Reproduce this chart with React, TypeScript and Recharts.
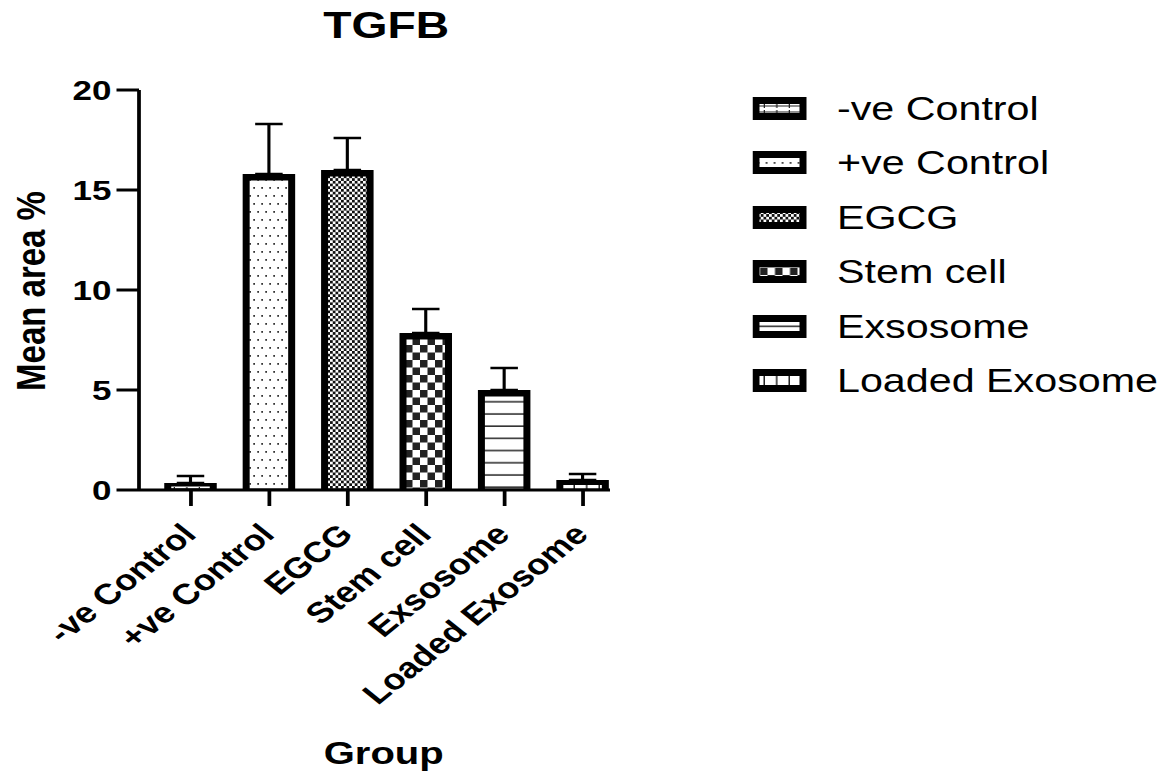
import React from 'react';
import { BarChart, Bar, XAxis, YAxis, ErrorBar, Cell, Legend, Label } from 'recharts';

const groups = ['-ve Control', '+ve Control', 'EGCG', 'Stem cell', 'Exsosome', 'Loaded Exosome'];
const means = [0.35, 15.8, 16.0, 7.85, 5.0, 0.5];
const errors = [0.35, 2.5, 1.6, 1.2, 1.1, 0.3];
const yTicks = [0, 5, 10, 15, 20];
const patternIds = ['pNeg', 'pPos', 'pEgcg', 'pStem', 'pExo', 'pLoaded'];

const FONT = '"Liberation Sans", Arial, Helvetica, sans-serif';
// the source image is stretched sideways, so draw narrow and scale in x
const SX = 1.25;
const W = 1168 / SX;
const H = 773;

const data = groups.map((name, i) => ({ name, mean: means[i], err: [0, errors[i]] }));

const Patterns = () => (
  <svg width={0} height={0} style={{ position: 'absolute' }}>
    <defs>
      <pattern id="pNeg" patternUnits="userSpaceOnUse" width={10} height={6}>
        <rect width={10} height={6} fill="#fff" />
        <rect x={0} y={2.5} width={10} height={1} fill="#222" />
        <rect x={9} y={1} width={1} height={4} fill="#222" />
      </pattern>
      <pattern id="pPos" patternUnits="userSpaceOnUse" width={6.4} height={16}>
        <rect width={6.4} height={16} fill="#fff" />
        <rect x={1} y={3} width={1.4} height={1.8} fill="#333" />
        <rect x={4.2} y={11} width={1.4} height={1.8} fill="#333" />
      </pattern>
      <pattern id="pEgcg" patternUnits="userSpaceOnUse" width={4.4} height={5.4}>
        <rect width={4.4} height={5.4} fill="#fff" />
        <rect x={0} y={0} width={2.2} height={2.7} fill="#111" />
        <rect x={2.2} y={2.7} width={2.2} height={2.7} fill="#111" />
      </pattern>
      <pattern id="pStem" patternUnits="userSpaceOnUse" width={12} height={15}>
        <rect width={12} height={15} fill="#fff" />
        <rect x={0} y={0} width={6} height={7.5} fill="#222" />
        <rect x={6} y={7.5} width={6} height={7.5} fill="#222" />
      </pattern>
      <pattern id="pExo" patternUnits="userSpaceOnUse" width={10} height={12.2}>
        <rect width={10} height={12.2} fill="#fff" />
        <rect x={0} y={10.6} width={10} height={1.8} fill="#333" />
      </pattern>
      <pattern id="pLoaded" patternUnits="userSpaceOnUse" width={10} height={8}>
        <rect width={10} height={8} fill="#fff" />
        <rect x={8.8} y={0} width={1.4} height={8} fill="#222" />
      </pattern>
    </defs>
  </svg>
);

// thick black frame drawn inside the bar rect, pattern inside that
const FramedBar = (props: any) => {
  const { x, y, width, height, fill } = props;
  if (!height || height <= 0) return null;
  const bx = 5.6;
  const by = Math.min(6.5, height / 2);
  const ih = Math.max(height - by - 1.5, 0);
  return (
    <g>
      <rect x={x} y={y} width={width} height={height} fill="#000" />
      {ih > 0 && <rect x={x + bx} y={y + by} width={width - 2 * bx} height={ih} fill={fill} />}
    </g>
  );
};

const XTick = (props: any) => {
  const { x, y, payload } = props;
  return (
    <g transform={`translate(${x + 5.5},${y + 28})`}>
      <text textAnchor="end" transform="rotate(-45)" fontSize={29} fontWeight="bold" fontFamily={FONT} fill="#000">
        {payload.value}
      </text>
    </g>
  );
};

const YTitle = () => (
  <text transform="translate(36,291) rotate(-90)" textAnchor="middle" fontSize={33} fontWeight="bold" fontFamily={FONT} fill="#000">
    Mean area %
  </text>
);

const XTitle = () => (
  <text x={307} y={764} textAnchor="middle" fontSize={32} fontWeight="bold" fontFamily={FONT} fill="#000">
    Group
  </text>
);

const LegendBox = () => (
  <div style={{ width: 330 }}>
    {groups.map((g, i) => (
      <div key={g} style={{ display: 'flex', alignItems: 'center', height: 54.4 }}>
        <svg width={43.2} height={23} style={{ flex: 'none', display: 'block' }}>
          <rect x={0} y={0} width={43.2} height={23} fill="#000" />
          <rect x={5.6} y={7} width={32} height={9} fill={`url(#${patternIds[i]})`} />
        </svg>
        <span style={{ marginLeft: 24, fontSize: 33, fontFamily: FONT, color: '#000', lineHeight: 1, whiteSpace: 'nowrap' }}>
          {g}
        </span>
      </div>
    ))}
  </div>
);

export default function App() {
  return (
    <div
      style={{
        position: 'absolute',
        left: 0,
        top: 0,
        width: W,
        height: H,
        background: '#fff',
        transform: `scaleX(${SX})`,
        transformOrigin: '0 0',
      }}
    >
      <Patterns />
      <svg width={W} height={60} style={{ position: 'absolute', left: 0, top: 0 }}>
        <text x={309} y={38} textAnchor="middle" fontSize={37} fontWeight="bold" fontFamily={FONT} fill="#000">
          TGFB
        </text>
      </svg>
      <BarChart width={W} height={H} data={data} margin={{ top: 90, right: W - 488, left: 0, bottom: 5 }}>
        <XAxis
          dataKey="name"
          height={278}
          interval={0}
          padding={{ left: 10.2, right: -9.8 }}
          tick={<XTick />}
          tickSize={16}
          axisLine={{ stroke: '#000', strokeWidth: 3 }}
          tickLine={{ stroke: '#000', strokeWidth: 3 }}
        >
          <Label content={<XTitle />} />
        </XAxis>
        <YAxis
          width={111.2}
          domain={[0, 20]}
          ticks={yTicks}
          interval={0}
          tickSize={18}
          tickMargin={4}
          tick={{ fill: '#000', fontSize: 28, fontWeight: 'bold', fontFamily: FONT }}
          axisLine={{ stroke: '#000', strokeWidth: 3 }}
          tickLine={{ stroke: '#000', strokeWidth: 3 }}
        >
          <Label content={<YTitle />} />
        </YAxis>
        <Legend
          layout="vertical"
          align="center"
          verticalAlign="middle"
          content={<LegendBox />}
          wrapperStyle={{ left: 602.4, top: 81.3, width: 330 }}
        />
        <Bar dataKey="mean" barSize={42} shape={<FramedBar />} isAnimationActive={false}>
          {data.map((d, i) => (
            <Cell key={d.name} fill={`url(#${patternIds[i]})`} />
          ))}
          <ErrorBar dataKey="err" width={11} stroke="#000" strokeWidth={2.5} isAnimationActive={false} />
        </Bar>
      </BarChart>
    </div>
  );
}
